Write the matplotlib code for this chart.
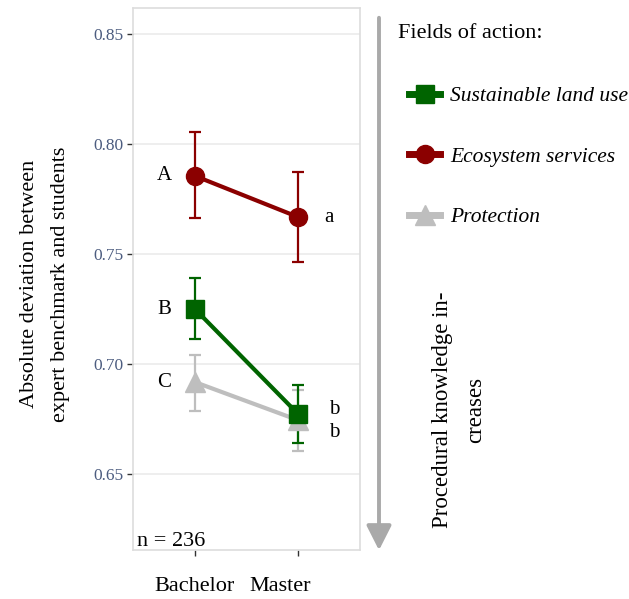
import matplotlib
matplotlib.use("Agg")
import matplotlib.pyplot as plt
from matplotlib.lines import Line2D
from matplotlib.patches import FancyArrowPatch
import numpy as np

plt.rcParams['font.family'] = ['Liberation Serif', 'DejaVu Serif']

# data
degrees = ["Bachelor", "Master"]
fields = ["Sustainable land use", "Ecosystem services", "Protection"]
means = {
    "Sustainable land use": [0.7250, 0.6773],
    "Ecosystem services": [0.7855, 0.7668],
    "Protection": [0.6918, 0.6745],
}
lower = {
    "Sustainable land use": [0.7114, 0.6641],
    "Ecosystem services": [0.7664, 0.7464],
    "Protection": [0.6786, 0.6605],
}
upper = {
    "Sustainable land use": [0.7391, 0.6905],
    "Ecosystem services": [0.8055, 0.7873],
    "Protection": [0.7041, 0.6882],
}
colors = {"Sustainable land use": "#006400",
          "Ecosystem services": "#8B0000",
          "Protection": "#BEBEBE"}
markers = {"Sustainable land use": "s",
           "Ecosystem services": "o",
           "Protection": "^"}
msizes = {"Sustainable land use": 13, "Ecosystem services": 13, "Protection": 14}

# letters (significance groups)
letters_bach = {"Ecosystem services": "A", "Sustainable land use": "B", "Protection": "C"}
letters_mast = {"Ecosystem services": "a", "Sustainable land use": "b", "Protection": "b"}
n_total = 236

fig = plt.figure(figsize=(6.29, 5.99), dpi=100)
ax = fig.add_axes([133/629, 1 - 550/599, 227/629, 542/599])

x = np.arange(1, len(degrees) + 1)
draw_order = ["Protection", "Ecosystem services", "Sustainable land use"]
for f in draw_order:
    m = np.array(means[f])
    lo = m - np.array(lower[f])
    hi = np.array(upper[f]) - m
    ax.errorbar(x, m, yerr=[lo, hi], color=colors[f], lw=3, marker=markers[f],
                ms=msizes[f], elinewidth=1.6, capsize=4, capthick=1.6, zorder=3)

# letters
for f, t in letters_bach.items():
    ax.text(x[0] - 0.3, means[f][0], t, ha="center", va="center", fontsize=15)
ax.text(x[1] + 0.3, means["Ecosystem services"][1], letters_mast["Ecosystem services"],
        ha="center", va="center", fontsize=15)
ax.text(x[1] + 0.35, means["Sustainable land use"][1] + 0.0020, letters_mast["Sustainable land use"],
        ha="center", va="center", fontsize=15)
ax.text(x[1] + 0.35, means["Protection"][1] - 0.0055, letters_mast["Protection"],
        ha="center", va="center", fontsize=15)

ax.text(0.44, 0.6195, "n = %d" % n_total, ha="left", va="center", fontsize=16)

ax.set_xlim(0.4, 2.6)
ax.set_ylim(0.6155, 0.8618)
ax.set_yticks([0.65, 0.70, 0.75, 0.80, 0.85])
ax.set_yticklabels(["0.65", "0.70", "0.75", "0.80", "0.85"], color="#4D5D80", fontsize=12.5)
ax.set_xticks(x)
ax.set_xticklabels(["", ""])
# x labels: Master sits a bit left of its tick in the original
xoff = [0.0, -0.17]
for i, d in enumerate(degrees):
    ax.text(x[i] + xoff[i], -0.068, d, transform=ax.get_xaxis_transform(),
            ha="center", va="center", fontsize=16)
ax.tick_params(axis="x", length=4, width=1, color="#333333")
ax.tick_params(axis="y", length=4, width=1, color="#333333", pad=3)
ax.grid(axis="y", color="#EBEBEB", lw=1.2)
ax.set_axisbelow(True)
for s in ax.spines.values():
    s.set_color("#DDDDDD")
    s.set_linewidth(1.2)

fig.text(45/629, 1 - 284/599, "Absolute deviation between\nexpert benchmark and students",
         rotation=90, ha="center", va="center", fontsize=16, multialignment="center",
         linespacing=1.85)

# arrow on the right
fig.add_artist(FancyArrowPatch(
    (379/629, 1 - 15/599), (379/629, 1 - 553/599), transform=fig.transFigure,
    arrowstyle="-|>,head_length=0.75,head_width=0.38", mutation_scale=20,
    color="#A9A9A9", lw=2.8))
fig.text(459/629, 1 - 410/599, "Procedural knowledge in-\ncreases", rotation=90,
         ha="center", va="center", fontsize=16.5, multialignment="center", linespacing=1.75)

# legend
fig.text(398/629, 1 - 33/599, "Fields of action:", ha="left", va="center", fontsize=16)
handles = [Line2D([0], [0], color=colors[f], lw=5, marker=markers[f], ms=msizes[f])
           for f in fields]
fig.legend(handles, fields, loc="upper left", bbox_to_anchor=(409/629, 1 - 86/599),
           frameon=False, prop={"style": "italic", "size": 15.5},
           labelspacing=1.88, handlelength=1.45, handletextpad=0.45,
           borderaxespad=0, borderpad=0)

fig.savefig("out.png", dpi=100)
